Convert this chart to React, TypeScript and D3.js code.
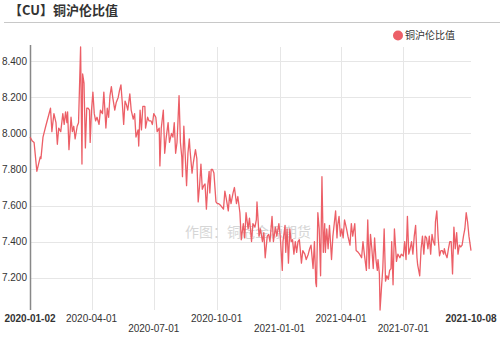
import React, { useEffect, useRef } from "react";
import * as d3 from "d3";

const startDate = "2020-01-02";
const seriesName = "铜沪伦比值";
const titleText = "【CU】铜沪伦比值";
const watermark = "作图：铜冠金源期货";

// days after startDate for each observation
const dayOffsets: number[] = [
  0, 3, 6, 7, 10, 15, 16, 19, 23, 30, 32, 35, 38, 40, 42, 45, 48, 50, 52, 54,
  55, 57, 60, 62, 64, 66, 69, 71, 74, 76, 77, 79, 81, 83, 85, 87, 88, 90, 92, 94,
  96, 98, 101, 103, 106, 108, 111, 113, 115, 117, 119, 121, 124, 126, 129, 131, 133, 135, 137, 139,
  141, 143, 146, 148, 151, 153, 155, 158, 159, 161, 163, 165, 168, 169, 172, 174, 177, 179, 181, 184,
  186, 189, 190, 192, 195, 197, 199, 202, 204, 207, 209, 211, 213, 215, 216, 218, 220, 222, 223, 225,
  227, 229, 231, 233, 234, 237, 239, 242, 244, 246, 248, 250, 252, 254, 256, 258, 260, 262, 263, 265,
  267, 269, 272, 274, 276, 279, 281, 283, 285, 287, 290, 292, 294, 297, 299, 302, 304, 307, 309, 312,
  314, 316, 319, 321, 324, 326, 329, 331, 332, 335, 337, 340, 342, 344, 347, 349, 351, 354, 356, 359,
  361, 364, 366, 369, 370, 373, 374, 376, 378, 380, 382, 384, 386, 388, 390, 392, 394, 397, 399, 402,
  404, 407, 409, 411, 414, 416, 418, 419, 421, 423, 425, 427, 429, 431, 432, 434, 436, 438, 441, 443,
  445, 447, 449, 450, 452, 454, 456, 458, 460, 463, 465, 468, 470, 472, 475, 477, 480, 482, 485, 487,
  489, 492, 494, 496, 498, 500, 502, 504, 506, 508, 509, 511, 512, 514, 516, 518, 520, 522, 524, 526,
  528, 529, 531, 533, 536, 538, 541, 543, 546, 548, 550, 552, 554, 556, 558, 560, 562, 564, 566, 567,
  570, 572, 574, 576, 578, 580, 582, 584, 586, 588, 590, 592, 593, 595, 597, 599, 601, 603, 605, 606,
  608, 610, 612, 614, 616, 618, 620, 622, 624, 626, 628, 630, 632, 634, 636, 638, 640, 642, 645,
];

const ratios: number[] = [
  7.98, 7.96, 7.95, 7.91, 7.79, 7.87, 7.86, 7.98, 8.04, 8.14, 8.01, 8.11, 8.06, 7.94, 8.03, 8.01, 8.11, 8.05, 8.12, 8.06,
  8.12, 7.91, 8.09, 8.01, 8.04, 7.97, 8.04, 8.06, 8.48, 7.83, 8.33, 8.28, 7.92, 8.14, 8.14, 8.13, 7.95, 8.13, 8.23, 8.11,
  8.07, 8.09, 8.05, 8.13, 8.11, 8.23, 8.03, 8.14, 8.09, 8.21, 8.26, 8.20, 8.13, 8.17, 8.20, 8.24, 8.27, 8.17, 8.05, 8.18,
  8.16, 8.13, 8.22, 8.13, 8.08, 8.11, 7.98, 8.02, 7.93, 8.13, 8.02, 8.15, 8.15, 8.03, 8.09, 8.07, 8.07, 8.05, 8.11, 8.09,
  8.01, 8.03, 7.82, 8.03, 8.13, 7.89, 7.97, 8.06, 7.95, 8.00, 7.98, 8.06, 7.89, 7.95, 8.03, 8.21, 7.95, 7.87, 7.76, 8.04,
  7.88, 7.71, 7.89, 7.97, 7.91, 7.78, 7.84, 7.91, 7.86, 7.62, 7.71, 7.83, 7.69, 7.71, 7.72, 7.58, 7.71, 7.79, 7.67, 7.80,
  7.80, 7.78, 7.62, 7.61, 7.61, 7.60, 7.59, 7.58, 7.68, 7.64, 7.57, 7.66, 7.61, 7.67, 7.70, 7.61, 7.65, 7.56, 7.41, 7.50,
  7.42, 7.56, 7.47, 7.53, 7.40, 7.50, 7.48, 7.52, 7.62, 7.43, 7.47, 7.40, 7.45, 7.31, 7.43, 7.44, 7.40, 7.54, 7.40, 7.48,
  7.43, 7.50, 7.43, 7.24, 7.40, 7.49, 7.34, 7.47, 7.28, 7.47, 7.40, 7.41, 7.33, 7.40, 7.34, 7.40, 7.41, 7.28, 7.35, 7.33,
  7.30, 7.33, 7.36, 7.38, 7.25, 7.40, 7.17, 7.15, 7.56, 7.47, 7.21, 7.76, 7.34, 7.50, 7.34, 7.47, 7.36, 7.49, 7.30, 7.43,
  7.50, 7.57, 7.42, 7.49, 7.54, 7.43, 7.47, 7.42, 7.52, 7.47, 7.43, 7.38, 7.50, 7.43, 7.50, 7.35, 7.34, 7.33, 7.31, 7.40,
  7.33, 7.24, 7.52, 7.25, 7.44, 7.36, 7.25, 7.42, 7.30, 7.24, 7.30, 7.22, 7.02, 7.14, 7.25, 7.47, 7.18, 7.21, 7.19, 7.24,
  7.25, 7.40, 7.16, 7.47, 7.29, 7.33, 7.31, 7.33, 7.32, 7.40, 7.30, 7.54, 7.33, 7.36, 7.40, 7.33, 7.43, 7.49, 7.31, 7.27,
  7.21, 7.36, 7.43, 7.33, 7.43, 7.42, 7.36, 7.43, 7.33, 7.44, 7.40, 7.38, 7.51, 7.57, 7.42, 7.32, 7.35, 7.35, 7.33, 7.36,
  7.33, 7.31, 7.36, 7.40, 7.40, 7.22, 7.48, 7.36, 7.45, 7.33, 7.38, 7.37, 7.38, 7.43, 7.47, 7.56, 7.51, 7.43, 7.35,
];

const xTickLabels: string[] = [
  "2020-01-02", "2020-04-01", "2020-07-01", "2020-10-01",
  "2021-01-01", "2021-04-01", "2021-07-01", "2021-10-08",
];

const W = 500;
const H = 339;
const margin = { left: 30, right: 29, top: 47, bottom: 29 };
const lineColor = "#ec5f67";
const latin = "'Liberation Sans', Arial, 'Noto Sans CJK SC', sans-serif";
const cjk = "'Noto Sans CJK SC', 'Liberation Sans', sans-serif";

export default function App() {
  const ref = useRef<SVGSVGElement>(null);

  useEffect(() => {
    const svg = d3.select(ref.current);
    svg.selectAll("*").remove();

    const parse = d3.utcParse("%Y-%m-%d");
    const t0 = parse(startDate)!;
    const data = dayOffsets.map((d, i) => ({
      date: d3.utcDay.offset(t0, d),
      v: ratios[i],
    }));
    const tickDates = xTickLabels.map((s) => parse(s)!);

    const x = d3
      .scaleUtc()
      .domain([t0, tickDates[tickDates.length - 1]])
      .range([margin.left, W - margin.right]);
    const y = d3
      .scaleLinear()
      .domain(d3.extent(ratios) as [number, number])
      .range([H - margin.bottom, margin.top]);

    // title
    svg
      .append("text")
      .attr("x", 9)
      .attr("y", 15)
      .attr("font-family", cjk)
      .attr("font-size", 13)
      .attr("font-weight", "bold")
      .attr("fill", "#333")
      .text(titleText);
    svg
      .append("line")
      .attr("x1", 4)
      .attr("x2", W)
      .attr("y1", 22.5)
      .attr("y2", 22.5)
      .attr("stroke", "#c8c8c8")
      .attr("stroke-width", 1);

    // legend
    svg
      .append("circle")
      .attr("cx", 398)
      .attr("cy", 35.5)
      .attr("r", 5)
      .attr("fill", lineColor);
    svg
      .append("text")
      .attr("x", 405)
      .attr("y", 39)
      .attr("font-family", cjk)
      .attr("font-size", 10)
      .attr("fill", "#333")
      .text(seriesName);

    // grid
    const yTicks = y.ticks(7);
    const gGrid = svg.append("g");
    gGrid
      .selectAll("line.h")
      .data(yTicks)
      .join("line")
      .attr("x1", margin.left)
      .attr("x2", W - margin.right)
      .attr("y1", (d) => Math.round(y(d)) + 0.5)
      .attr("y2", (d) => Math.round(y(d)) + 0.5)
      .attr("stroke", "#e6e6e6");
    gGrid
      .selectAll("line.v")
      .data(tickDates.slice(1, -1))
      .join("line")
      .attr("x1", (d) => Math.round(x(d)) + 0.5)
      .attr("x2", (d) => Math.round(x(d)) + 0.5)
      .attr("y1", margin.top)
      .attr("y2", H - margin.bottom)
      .attr("stroke", "#e6e6e6");

    // watermark
    svg
      .append("text")
      .attr("x", 185)
      .attr("y", 237)
      .attr("font-family", cjk)
      .attr("font-size", 14)
      .attr("fill", "#d6d6d6")
      .text(watermark);

    // y axis
    svg
      .append("line")
      .attr("x1", margin.left + 0.5)
      .attr("x2", margin.left + 0.5)
      .attr("y1", margin.top - 2)
      .attr("y2", H - margin.bottom)
      .attr("stroke", "#888")
      .attr("stroke-width", 1.5);
    const fmt = d3.format(".3f");
    svg
      .append("g")
      .selectAll("text")
      .data(yTicks)
      .join("text")
      .attr("x", margin.left - 3)
      .attr("y", (d) => y(d) + 3.5)
      .attr("text-anchor", "end")
      .attr("font-family", latin)
      .attr("font-size", 10)
      .attr("fill", "#333")
      .text((d) => fmt(d));

    // x labels (staggered)
    const lowRow = new Set([2, 4, 6]);
    svg
      .append("g")
      .selectAll("text")
      .data(tickDates)
      .join("text")
      .attr("x", (d) => x(d))
      .attr("y", (d, i) => (lowRow.has(i) ? 332 : 322))
      .attr("text-anchor", "middle")
      .attr("font-family", latin)
      .attr("font-size", 10)
      .attr("font-weight", (d, i) => (i === 0 || i === tickDates.length - 1 ? "bold" : "normal"))
      .attr("fill", "#333")
      .text((d, i) => xTickLabels[i]);

    // line
    const line = d3
      .line<{ date: Date; v: number }>()
      .x((d) => x(d.date))
      .y((d) => y(d.v));
    svg
      .append("path")
      .datum(data)
      .attr("d", line)
      .attr("fill", "none")
      .attr("stroke", lineColor)
      .attr("stroke-width", 1.3)
      .attr("stroke-linejoin", "round");
  }, []);

  return (
    <svg
      ref={ref}
      width={W}
      height={H}
      style={{ position: "absolute", left: 0, top: 0, background: "#fff" }}
    />
  );
}
